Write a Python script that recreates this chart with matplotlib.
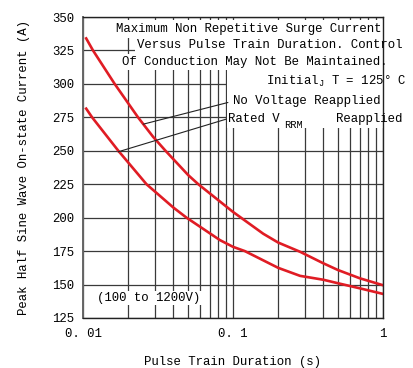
import matplotlib
matplotlib.use("Agg")
import matplotlib.pyplot as plt
from matplotlib.patches import Rectangle
from matplotlib.ticker import FixedLocator, LogLocator, NullFormatter

plt.rcParams['font.family'] = ['Liberation Mono', 'DejaVu Sans Mono']
plt.rcParams['font.size'] = 8.9
plt.rcParams['mathtext.default'] = 'regular'

# surge current vs pulse train duration
no_volt_t = [0.0105, 0.01166, 0.01626, 0.02327, 0.0293, 0.0355, 0.0503, 0.0587,
             0.1, 0.159, 0.2, 0.28, 0.4, 0.5, 0.7, 1.0]
no_volt_i = [334, 325, 300, 275, 260.5, 250, 231.8, 225,
             204.3, 188, 181.4, 174.5, 165.9, 160.9, 154.7, 149.5]

rated_t = [0.0105, 0.0115, 0.0172, 0.0265, 0.04, 0.049, 0.0819, 0.1, 0.12,
           0.2, 0.28, 0.4, 0.5, 0.7, 1.0]
rated_i = [281.5, 275, 250, 225, 207.6, 200, 183.2, 178.2, 175,
           162.5, 156.5, 153.6, 151, 147.2, 143]

x_ticks = [0.01, 0.1, 1]
x_labels = ["0. 01", "0. 1", "1"]
y_ticks = [125, 150, 175, 200, 225, 250, 275, 300, 325, 350]

fig = plt.figure(figsize=(4.14, 3.68), dpi=100)
ax = fig.add_axes([83/414, 50/368, 300/414, 301/368])

ax.set_xscale('log')
ax.set_xlim(0.01, 1)
ax.set_ylim(125, 350)
ax.xaxis.set_major_locator(FixedLocator(x_ticks))
ax.set_xticklabels(x_labels)
ax.xaxis.set_minor_locator(LogLocator(base=10, subs=range(2, 10)))
ax.xaxis.set_minor_formatter(NullFormatter())
ax.set_yticks(y_ticks)
ax.tick_params(which='both', length=0)
ax.tick_params(axis='x', pad=7)
ax.tick_params(axis='y', pad=6)

ax.set_axisbelow(True)
ax.grid(True, which='both', color='#3a3a3a', lw=0.9)
for s in ax.spines.values():
    s.set_color('#222222')
    s.set_linewidth(1.0)
ax.spines['left'].set_color('#666666')
ax.spines['left'].set_linewidth(1.4)


def blank(x0, y0, x1, y1):
    # white area behind the notes (pixel box of the original)
    ax.add_patch(Rectangle(((x0 - 83) / 300, (318 - y1) / 301), (x1 - x0) / 300,
                           (y1 - y0) / 301, transform=ax.transAxes,
                           fc='white', ec='none', zorder=1))


blank(112, 20, 383, 38)
blank(135, 38, 383, 54)
blank(117, 54, 383, 70)
blank(227, 70, 383, 128)

red = '#e01c24'
ax.plot(no_volt_t, no_volt_i, color=red, lw=1.9, zorder=2)
ax.plot(rated_t, rated_i, color=red, lw=1.9, zorder=2)

txt = dict(transform=ax.transAxes, va='center', ha='left', zorder=3, clip_on=False)
ax.text(0.11, 0.960, "Maximum Non Repetitive Surge Current", **txt)
ax.text(0.18, 0.907, "Versus Pulse Train Duration. Control", **txt)
ax.text(0.13, 0.850, "Of Conduction May Not Be Maintained.", **txt)
ax.text(0.61, 0.787, "Initial$_J$ T = 125° C", **txt)
ax.text(0.50, 0.721, "No Voltage Reapplied", **txt)
ax.text(0.483, 0.661, "Rated V", **txt)
ax.text(0.67, 0.641, "RRM", fontsize=7.5, **txt)
ax.text(0.843, 0.661, "Reapplied", **txt)
ax.text(0.047, 0.066, "(100 to 1200V)", transform=ax.transAxes, va='center',
        ha='left', zorder=3,
        bbox=dict(fc='white', ec='none', pad=1.0))

ax.annotate("", xy=(0.02525, 269.9), xytext=(0.0925, 286.1),
            arrowprops=dict(arrowstyle='-', lw=0.8, color='#222222',
                            shrinkA=0, shrinkB=0), zorder=3)
ax.annotate("", xy=(0.01712, 249.2), xytext=(0.0898, 273.6),
            arrowprops=dict(arrowstyle='-', lw=0.8, color='#222222',
                            shrinkA=0, shrinkB=0), zorder=3)

ax.set_xlabel("Pulse Train Duration (s)", labelpad=12)
ax.set_ylabel("Peak Half Sine Wave On-state Current (A)", labelpad=16)

fig.savefig("out.png", dpi=100, facecolor='white')
